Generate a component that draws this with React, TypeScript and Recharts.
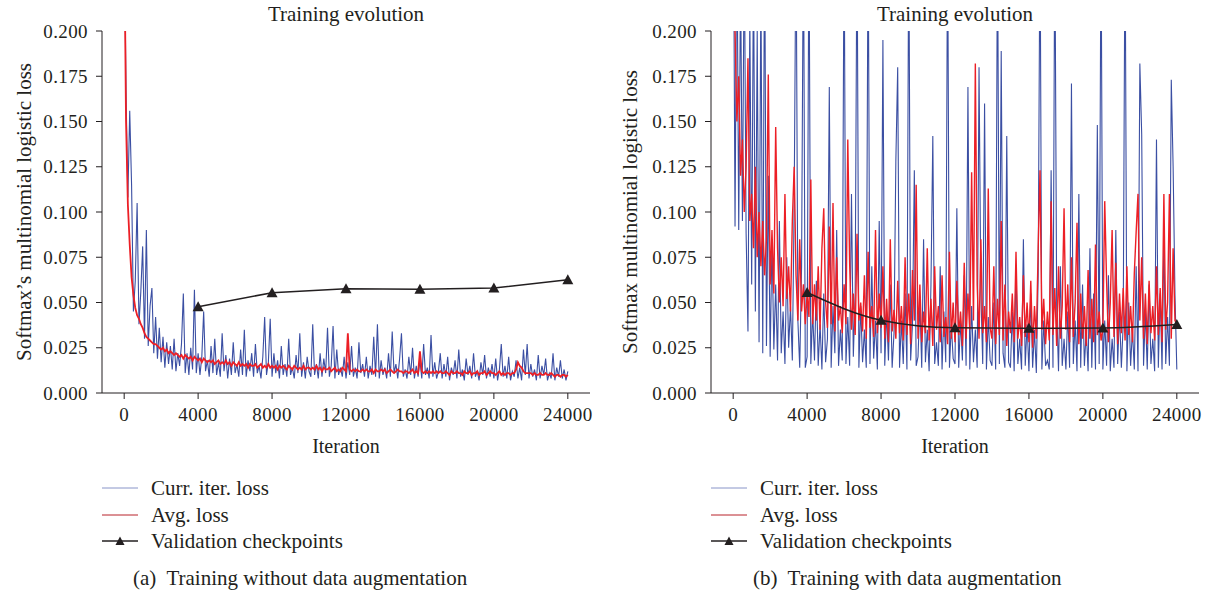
import React from "react";
import { Line, LineChart, XAxis, YAxis } from "recharts";

// loss values in thousandths, one sample every 100 iterations
const STEP = 100;
const X_DOMAIN: [number, number] = [-1200, 25200];
const X_TICKS = [0, 4000, 8000, 12000, 16000, 20000, 24000];
const Y_TICKS = [0, 0.025, 0.05, 0.075, 0.1, 0.125, 0.15, 0.175, 0.2];
const CHECKPOINTS = [4000, 8000, 12000, 16000, 20000, 24000];

const LEFT_CURR = [
  260, 166, 108, 156, 115, 45, 62, 105, 38, 56,
  81, 30, 90, 26, 48, 58, 22, 42, 19, 36,
  17, 31, 14, 28, 16, 26, 13, 30, 12, 22,
  15, 27, 55, 11, 22, 10, 25, 13, 57, 11,
  22, 10, 20, 45, 12, 18, 9, 26, 11, 30,
  10, 17, 9, 33, 12, 21, 8, 19, 10, 28,
  11, 16, 9, 24, 10, 35, 9, 18, 12, 22,
  9, 27, 11, 15, 8, 20, 42, 10, 17, 41,
  9, 22, 11, 18, 8, 26, 10, 16, 9, 30,
  10, 14, 8, 21, 11, 33, 9, 17, 8, 20,
  12, 9, 38, 10, 16, 8, 22, 9, 19, 11,
  36, 9, 15, 37, 8, 24, 10, 14, 9, 20,
  8, 17, 10, 26, 9, 14, 8, 28, 11, 16,
  9, 20, 8, 15, 10, 31, 9, 38, 8, 18,
  10, 14, 8, 22, 9, 34, 11, 16, 8, 19,
  33, 9, 13, 8, 20, 10, 25, 8, 15, 9,
  18, 8, 27, 10, 14, 8, 32, 9, 17, 8,
  12, 22, 8, 16, 9, 20, 7, 14, 10, 18,
  8, 24, 9, 13, 7, 19, 10, 15, 8, 22,
  9, 12, 7, 17, 10, 21, 8, 14, 9, 16,
  8, 19, 7, 13, 27, 9, 15, 8, 20, 7,
  12, 9, 18, 8, 14, 7, 24, 10, 27, 8,
  16, 9, 13, 7, 21, 8, 15, 10, 19, 7,
  11, 8, 22, 7, 14, 9, 18, 8, 13, 7,
  12,
];

const LEFT_AVG = [
  260, 150, 104, 82, 64, 54, 47, 43, 41, 38,
  36, 33, 31, 30, 29, 28, 27, 27, 26, 25,
  24, 25, 23, 24, 22, 23, 22, 21, 22, 21,
  20, 21, 19, 21, 20, 19, 20, 18, 20, 19,
  18, 19, 17, 19, 18, 17, 18, 17, 18, 16,
  17, 18, 16, 17, 16, 18, 16, 17, 15, 17,
  16, 15, 17, 15, 16, 15, 16, 14, 16, 15,
  15, 16, 14, 15, 16, 14, 15, 14, 16, 14,
  15, 14, 15, 13, 15, 14, 15, 14, 13, 15,
  14, 13, 15, 14, 13, 14, 13, 15, 13, 14,
  14, 13, 14, 13, 15, 13, 14, 12, 14, 13,
  13, 14, 12, 13, 14, 12, 13, 12, 14, 13,
  12, 33, 13, 12, 13, 12, 13, 12, 12, 13,
  12, 13, 12, 12, 13, 11, 13, 12, 12, 13,
  12, 13, 11, 12, 13, 12, 11, 12, 13, 12,
  12, 11, 12, 12, 11, 12, 13, 11, 12, 11,
  23, 12, 11, 12, 11, 12, 11, 12, 11, 12,
  11, 12, 11, 11, 12, 11, 10, 12, 11, 11,
  12, 11, 11, 10, 12, 11, 11, 12, 10, 11,
  11, 12, 10, 11, 11, 12, 10, 11, 12, 11,
  11, 10, 11, 12, 10, 11, 10, 11, 11, 10,
  11, 11, 13, 17, 15, 14, 12, 11, 11, 11,
  11, 10, 11, 10, 10, 11, 10, 10, 11, 10,
  10, 11, 10, 9, 10, 10, 9, 10, 10, 9,
  10,
];

const LEFT_VAL = [47.7, 55.4, 57.6, 57.3, 58.0, 62.6];

const RIGHT_CURR = [
  300, 92, 260, 90, 230, 95, 250, 88, 34, 210,
  60, 240, 45, 200, 28, 230, 22, 260, 26, 120,
  20, 85, 24, 60, 18, 95, 22, 45, 16, 75,
  25, 48, 18, 105, 260, 40, 14, 70, 260, 14,
  20, 260, 16, 45, 18, 62, 15, 38, 13, 55,
  17, 30, 169, 14, 48, 22, 90, 15, 35, 18,
  260, 16, 42, 15, 110, 20, 55, 260, 14, 48,
  17, 35, 14, 260, 16, 70, 19, 40, 13, 95,
  22, 195, 15, 45, 18, 60, 14, 33, 128, 180,
  14, 40, 16, 55, 13, 260, 18, 38, 123, 15,
  20, 50, 14, 85, 17, 35, 12, 60, 142, 16,
  28, 15, 70, 13, 45, 17, 260, 14, 38, 19,
  16, 102, 14, 40, 18, 65, 15, 169, 13, 48,
  17, 35, 14, 180, 55, 16, 160, 13, 42, 18,
  15, 50, 13, 260, 16, 189, 22, 14, 142, 17,
  14, 45, 12, 70, 16, 30, 13, 85, 15, 38,
  12, 55, 14, 35, 11, 65, 260, 13, 40, 15,
  18, 13, 123, 14, 260, 48, 12, 70, 15, 30,
  13, 45, 14, 171, 16, 40, 12, 110, 14, 60,
  15, 35, 12, 80, 14, 55, 13, 148, 16, 260,
  13, 40, 15, 65, 12, 30, 14, 90, 16, 45,
  14, 38, 260, 12, 50, 15, 35, 13, 70, 12,
  182, 143, 15, 45, 13, 60, 16, 30, 12, 140,
  14, 55, 13, 85, 16, 42, 15, 173, 125, 54,
  13,
];

const RIGHT_AVG = [
  260, 200, 150, 175, 120, 140, 100, 125, 185, 95,
  110, 80, 125, 75, 100, 70, 95, 65, 85, 176,
  60, 90, 55, 147, 80, 50, 75, 48, 110, 52,
  70, 45, 95, 125, 65, 40, 85, 45, 60, 38,
  55, 42, 118, 38, 60, 40, 70, 35, 80, 102,
  50, 36, 92, 38, 105, 34, 75, 40, 48, 33,
  60, 38, 140, 72, 35, 55, 32, 88, 40, 50,
  34, 65, 30, 78, 36, 48, 31, 90, 33, 55,
  36, 70, 30, 52, 28, 85, 34, 46, 30, 62,
  33, 48, 29, 75, 32, 55, 27, 68, 40, 115,
  30, 60, 28, 45, 33, 80, 29, 52, 26, 70,
  35, 48, 28, 65, 31, 42, 27, 78, 30, 50,
  28, 62, 32, 45, 26, 72, 30, 55, 35, 122,
  40, 182, 60, 30, 85, 33, 48, 28, 113, 36,
  30, 70, 27, 52, 32, 95, 29, 60, 26, 45,
  33, 55, 28, 78, 30, 42, 26, 65, 31, 50,
  28, 62, 25, 48, 30, 80, 123, 35, 52, 27,
  45, 29, 106, 32, 58, 26, 70, 30, 48, 102,
  35, 60, 28, 75, 31, 50, 94, 27, 55, 30,
  48, 26, 68, 30, 52, 28, 82, 32, 45, 29,
  35, 106, 62, 28, 50, 90, 31, 72, 27, 55,
  33, 58, 29, 70, 32, 48, 28, 66, 89, 110,
  40, 75, 30, 55, 27, 62, 33, 48, 29, 70,
  32, 58, 28, 110, 35, 50, 110, 30, 80, 40,
  38,
];

const RIGHT_VAL = [55.5, 40.2, 36.0, 35.8, 35.9, 37.8];

const INK = "#231f20";
const BLUE = "#3b4fa3";
const RED = "#ec1f26";
const FONT = "'Liberation Serif', 'Times New Roman', serif";

function buildRows(curr: number[], avg: number[], val: number[]) {
  return curr.map((c, i) => {
    const iter = i * STEP;
    const k = CHECKPOINTS.indexOf(iter);
    return {
      iter,
      curr: c / 1000,
      avg: avg[i] / 1000,
      val: k >= 0 ? val[k] / 1000 : null,
    };
  });
}

function Triangle(props: any) {
  const { cx, cy } = props;
  if (cx == null || cy == null) return null;
  return (
    <polygon
      points={`${cx},${cy - 5.5} ${cx - 5.5},${cy + 4.5} ${cx + 5.5},${cy + 4.5}`}
      fill={INK}
    />
  );
}

function LegendRow({ kind, label }: { kind: "curr" | "avg" | "val"; label: string }) {
  const color = kind === "curr" ? BLUE : kind === "avg" ? "#b8232b" : INK;
  return (
    <div style={{ display: "flex", alignItems: "center", height: 26.5 }}>
      <svg width={36} height={12} style={{ marginRight: 13 }}>
        <line
          x1={0}
          x2={36}
          y1={6}
          y2={6}
          stroke={color}
          strokeWidth={kind === "val" ? 1.5 : 1}
          strokeOpacity={kind === "curr" ? 0.6 : 1}
        />
        {kind === "val" ? <polygon points="18,1.5 13.5,10 22.5,10" fill={INK} /> : null}
      </svg>
      <span>{label}</span>
    </div>
  );
}

function Panel({
  left,
  curr,
  avg,
  val,
  valCurve,
  avgWidth,
  yLabel,
  yLabelX,
  caption,
  captionX,
}: {
  left: number;
  curr: number[];
  avg: number[];
  val: number[];
  valCurve: "linear" | "monotone";
  avgWidth: number;
  yLabel: string;
  yLabelX: number;
  caption: string;
  captionX: number;
}) {
  const rows = React.useMemo(() => buildRows(curr, avg, val), [curr, avg, val]);
  const tickStyle = { fill: INK, fontSize: 19, fontFamily: FONT, letterSpacing: 0.4 };

  return (
    <div style={{ position: "absolute", left, top: 0, width: 600, height: 597 }}>
      <div
        style={{
          position: "absolute",
          left: 102,
          width: 488,
          top: 2,
          textAlign: "center",
          fontSize: 21,
          lineHeight: "24px",
        }}
      >
        Training evolution
      </div>
      <div
        style={{
          position: "absolute",
          left: yLabelX - 181,
          top: 200,
          width: 362,
          height: 24,
          lineHeight: "24px",
          fontSize: 21,
          textAlign: "center",
          transform: "rotate(-90deg)",
          whiteSpace: "nowrap",
        }}
      >
        {yLabel}
      </div>
      <LineChart
        width={600}
        height={460}
        data={rows}
        margin={{ top: 31, right: 10, left: 0, bottom: 0 }}
        style={{ position: "absolute", left: 0, top: 0 }}
      >
        <XAxis
          dataKey="iter"
          type="number"
          domain={X_DOMAIN}
          ticks={X_TICKS}
          interval={0}
          height={67}
          stroke={INK}
          tickSize={6}
          tickMargin={9}
          tick={tickStyle}
          label={{ value: "Iteration", position: "insideBottom", offset: 7, fill: INK, fontSize: 20, fontFamily: FONT }}
        />
        <YAxis
          type="number"
          domain={[0, 0.2]}
          ticks={Y_TICKS}
          interval={0}
          allowDataOverflow
          width={102}
          stroke={INK}
          tickSize={6}
          tickMargin={8}
          tick={tickStyle}
          tickFormatter={(v: number) => v.toFixed(3)}
        />
        <XAxis xAxisId="top" orientation="top" type="number" domain={X_DOMAIN} height={0} tick={false} tickLine={false} stroke={INK} />
        <YAxis yAxisId="right" orientation="right" type="number" domain={[0, 0.2]} width={0} tick={false} tickLine={false} stroke={INK} />
        <Line
          type="linear"
          dataKey="curr"
          stroke={BLUE}
          strokeWidth={1.1}
          dot={false}
          isAnimationActive={false}
        />
        <Line
          type="linear"
          dataKey="avg"
          stroke={RED}
          strokeWidth={avgWidth}
          dot={false}
          isAnimationActive={false}
        />
        <Line
          type={valCurve}
          dataKey="val"
          stroke={INK}
          strokeWidth={1.5}
          connectNulls
          dot={<Triangle />}
          isAnimationActive={false}
        />
      </LineChart>
      <div style={{ position: "absolute", left: 102, top: 475, fontSize: 21, lineHeight: "26.5px" }}>
        <LegendRow kind="curr" label="Curr. iter. loss" />
        <LegendRow kind="avg" label="Avg. loss" />
        <LegendRow kind="val" label="Validation checkpoints" />
      </div>
      <div
        style={{
          position: "absolute",
          left: captionX,
          top: 566,
          fontSize: 21,
          lineHeight: "24px",
          whiteSpace: "pre",
        }}
      >
        {caption}
      </div>
    </div>
  );
}

export default function App() {
  return (
    <div
      style={{
        position: "absolute",
        left: 0,
        top: 0,
        width: 1210,
        height: 597,
        background: "#fff",
        color: INK,
        fontFamily: FONT,
        overflow: "hidden",
      }}
    >
      <Panel
        left={0}
        curr={LEFT_CURR}
        avg={LEFT_AVG}
        val={LEFT_VAL}
        valCurve="linear"
        avgWidth={1.8}
        yLabel="Softmax’s multinomial logistic loss"
        yLabelX={24}
        caption="(a)  Training without data augmentation"
        captionX={133}
      />
      <Panel
        left={609}
        curr={RIGHT_CURR}
        avg={RIGHT_AVG}
        val={RIGHT_VAL}
        valCurve="monotone"
        avgWidth={1.4}
        yLabel="Softmax multinomial logistic loss"
        yLabelX={21}
        caption="(b)  Training with data augmentation"
        captionX={144}
      />
    </div>
  );
}
